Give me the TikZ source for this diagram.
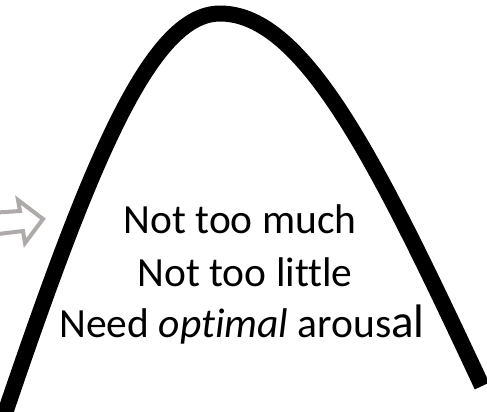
\documentclass[tikz,border=0pt]{standalone}
\usepackage{fontspec}
\setmainfont{Carlito}[Ligatures=NoCommon]
\definecolor{arrowgray}{HTML}{AEAAAA}
\begin{document}
\begin{tikzpicture}[x=1pt,y=-1pt,
  curve/.style={line width=16pt,line cap=butt,line join=round},
  blockarrow/.style={draw=arrowgray,line width=4pt,fill=white,line join=miter},
  txt/.style={anchor=base,inner sep=0pt,font=\fontsize{41.5}{50}\selectfont}]
\useasboundingbox (0,0) rectangle (487,412);
\begin{scope}
\clip (0,0) rectangle (487,412);
\coordinate (peak) at (220,13.5);
\coordinate (lend) at (1,425);
\coordinate (rend) at (482,386);
\draw[curve] (lend) .. controls (89,165) and (150,13.5) .. (peak)
  .. controls (305,13.5) and (379,166) .. (rend);
\draw[blockarrow] (-10,213) -- (20,211) -- (18,200) -- (43,219) -- (25,243) -- (23,231) -- (-10,235) -- cycle;
\end{scope}
\node[txt] (l1) at (240,233) {Not too much};
\node[txt] (l2) at (245,286) {Not too little};
\node[txt] (l3) at (242,337) {Need \textit{optimal} arous{\fontsize{47}{50}\selectfont al}};
\end{tikzpicture}
\end{document}
